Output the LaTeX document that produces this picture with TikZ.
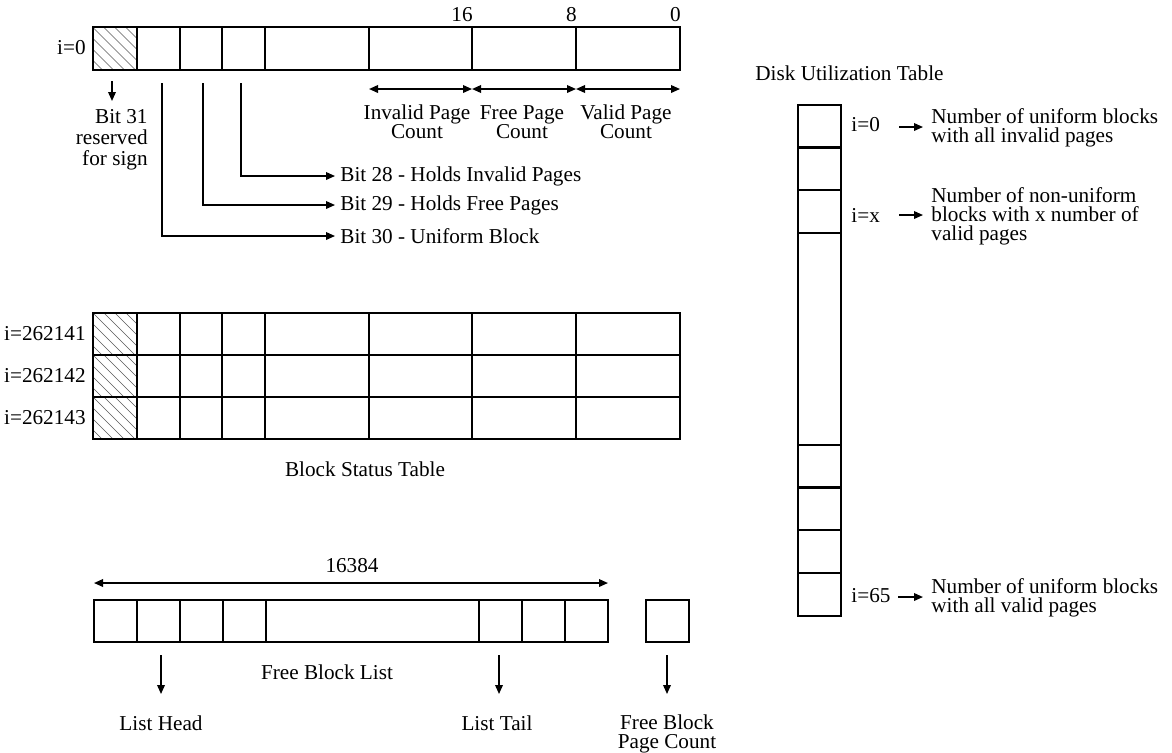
\documentclass[tikz,border=0pt]{standalone}
\usepackage{fontspec}
\setmainfont{Liberation Serif}
\usetikzlibrary{arrows.meta}

\begin{document}
\begin{tikzpicture}[x=0.5pt, y=-0.5pt, >={Triangle[length=4.5pt,width=3.8pt]},
    every node/.style={font=\fontsize{10.6}{9.5}\selectfont, inner sep=0pt},
    grid/.style={line width=1.2pt},
    hatch/.style={black!65, line width=0.3pt},
    link/.style={->, line width=0.8pt},
    tag/.style={anchor=west, inner xsep=2.5pt}]
    \useasboundingbox (0,0) rectangle (1172,752);

    \def\hatchcell#1#2{%
        \begin{scope}
            \clip (#1,#2) rectangle ++(44,42);
            \foreach \o in {-44,-33,...,44}
                \draw[hatch] (#1+\o,#2) -- ++(44,44);
        \end{scope}}

    % entry i=0
    \hatchcell{93}{27.5}
    \draw[grid] (93,27) rectangle (680,70);
    \foreach \x in {137,180,222,265,369,472,576}
        \draw[grid] (\x,27) -- (\x,70);
    \node[anchor=east] (row0) at (86,48) {i=0};
    \node[anchor=east] (n16) at (473,15) {16};
    \node[anchor=east] (n8) at (577,15) {8};
    \node[anchor=east] (n0) at (681,15) {0};

    \coordinate (m24) at (369,89);
    \coordinate (m16) at (472,89);
    \coordinate (m8) at (576,89);
    \coordinate (m0) at (680,89);
    \draw[link,<->] (m24) -- (m16);
    \draw[link,<->] (m16) -- (m8);
    \draw[link,<->] (m8) -- (m0);
    \node[align=center] (ipc) at (417,122) {Invalid Page\\Count};
    \node[align=center] (fpc) at (522,122) {Free Page\\Count};
    \node[align=center] (vpc) at (626,122) {Valid Page\\Count};

    % sign bit and flag bits
    \coordinate (t31) at (112,81);
    \coordinate (e31) at (112,101);
    \draw[link] (t31) -- (e31);
    \node[anchor=east, align=right, font=\fontsize{10.6}{10.6}\selectfont] (bit31) at (148,140) {Bit 31\\reserved\\for sign};

    \coordinate (t28) at (241,83);
    \coordinate (t29) at (203,83);
    \coordinate (t30) at (162,83);
    \node[tag] (bit28) at (335,176) {Bit 28 - Holds Invalid Pages};
    \node[tag] (bit29) at (335,205) {Bit 29 - Holds Free Pages};
    \node[tag] (bit30) at (335,236) {Bit 30 - Uniform Block};
    \draw[link] (t28) |- (bit28);
    \draw[link] (t29) |- (bit29);
    \draw[link] (t30) |- (bit30);

    % last entries of the block status table
    \foreach \y in {313,355,397}
        \hatchcell{93}{\y}
    \draw[grid] (93,313) rectangle (680,439);
    \foreach \y in {355,397}
        \draw[grid] (93,\y) -- (680,\y);
    \foreach \x in {137,180,222,265,369,472,576}
        \draw[grid] (\x,313) -- (\x,439);
    \node[anchor=east] (row1) at (86,334) {i=262141};
    \node[anchor=east] (row2) at (86,376) {i=262142};
    \node[anchor=east] (row3) at (86,418) {i=262143};
    \node (bst) at (365,469) {Block Status Table};

    % free block list
    \coordinate (fl) at (94,583);
    \coordinate (fr) at (608,583);
    \draw[link,<->] (fl) -- (fr);
    \node (len) at (352,566) {16384};
    \draw[grid] (94,600) rectangle (608,642);
    \foreach \x in {137,180,223,266,479,522,565}
        \draw[grid] (\x,600) -- (\x,642);
    \draw[grid] (646,600) rectangle (689,642);
    \node (fbl) at (327,672) {Free Block List};

    \coordinate (hd) at (161,655);
    \coordinate (hdend) at (161,694);
    \coordinate (tl) at (499,655);
    \coordinate (tlend) at (499,694);
    \coordinate (pc) at (667,655);
    \coordinate (pcend) at (667,694);
    \draw[link] (hd) -- (hdend);
    \draw[link] (tl) -- (tlend);
    \draw[link] (pc) -- (pcend);
    \node (head) at (161,723) {List Head};
    \node (tail) at (497,723) {List Tail};
    \node[align=center] (fbpc) at (667,734) {Free Block\\Page Count};

    % disk utilization table
    \node[anchor=west] (dut) at (755,73) {Disk Utilization Table};
    \draw[grid] (798,105) rectangle (841,616);
    \foreach \y in {147.6,190.2,232.8,445,487.6,530.2,572.8}
        \draw[grid] (798,\y) -- (841,\y);

    \node[anchor=west] (du0) at (851,125) {i=0};
    \coordinate (a0s) at (899,127);
    \coordinate (a0e) at (923,127);
    \draw[link] (a0s) -- (a0e);
    \node[anchor=west, align=left] (du0t) at (931,128) {Number of uniform blocks\\with all invalid pages};

    \node[anchor=west] (dux) at (851,215) {i=x};
    \coordinate (axs) at (899,215);
    \coordinate (axe) at (923,215);
    \draw[link] (axs) -- (axe);
    \node[anchor=west, align=left] (duxt) at (931,216) {Number of non-uniform\\blocks with x number of\\valid pages};

    \node[anchor=west] (du65) at (851,596) {i=65};
    \coordinate (a65s) at (898,597);
    \coordinate (a65e) at (923,597);
    \draw[link] (a65s) -- (a65e);
    \node[anchor=west, align=left] (du65t) at (931,598) {Number of uniform blocks\\with all valid pages};
\end{tikzpicture}
\end{document}
